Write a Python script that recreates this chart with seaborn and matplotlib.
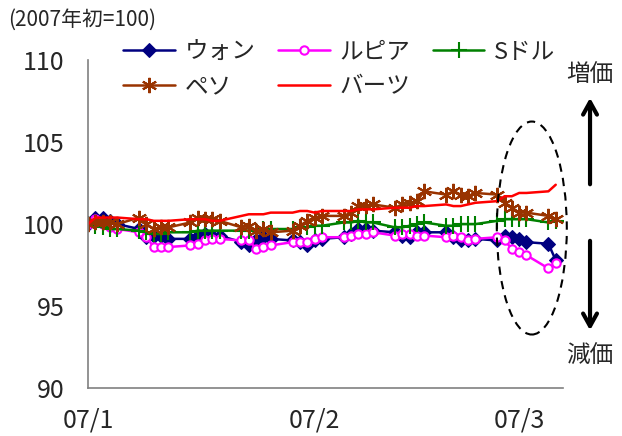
import numpy as np
import pandas as pd
import matplotlib
matplotlib.use('Agg')
import matplotlib.pyplot as plt
from matplotlib.patches import Ellipse
import seaborn as sns

# business days, 2007 (start = 100)
dates = ['2007-01-01', '2007-01-02', '2007-01-03', '2007-01-04', '2007-01-05',
         '2007-01-08', '2007-01-09', '2007-01-10', '2007-01-11', '2007-01-12',
         '2007-01-15', '2007-01-16', '2007-01-17', '2007-01-18', '2007-01-19',
         '2007-01-22', '2007-01-23', '2007-01-24', '2007-01-25', '2007-01-26',
         '2007-01-29', '2007-01-30', '2007-01-31', '2007-02-01', '2007-02-02',
         '2007-02-05', '2007-02-06', '2007-02-07', '2007-02-08', '2007-02-09',
         '2007-02-12', '2007-02-13', '2007-02-14', '2007-02-15', '2007-02-16',
         '2007-02-19', '2007-02-20', '2007-02-21', '2007-02-22', '2007-02-23',
         '2007-02-26', '2007-02-27', '2007-02-28', '2007-03-01', '2007-03-02',
         '2007-03-05', '2007-03-06']

won = [100.0, 100.4, 100.4, 100.2, 100.0, 99.7, 99.2, 99.3, 99.3, 99.1,
       99.1, 99.3, 99.4, 99.3, 99.3, 98.9, 98.7, 99.0, 99.2, 99.1,
       99.0, 98.9, 98.7, 99.0, 99.1, 99.2, 99.4, 99.7, 99.7, 99.6,
       99.5, 99.3, 99.2, 99.5, 99.5, 99.5, 99.2, 99.0, 99.0, 99.1,
       99.0, 99.3, 99.2, 99.1, 98.9, 98.8, 97.8]
rupiah = [100.0, 100.3, 100.0, 99.8, 99.7, 99.5, 99.2, 98.6, 98.6, 98.6,
          98.7, 98.8, 99.0, 99.1, 99.1, 99.0, 99.0, 98.5, 98.6, 98.7,
          98.9, 98.9, 98.9, 99.1, 99.2, 99.2, 99.3, 99.4, 99.4, 99.5,
          99.3, 99.4, 99.4, 99.3, 99.3, 99.2, 99.3, 99.2, 99.0, 99.1,
          99.2, 99.0, 98.5, 98.3, 98.1, 97.3, 97.6]
sgd = [100.0, 99.9, 99.8, 99.7, 99.7, 99.6, 99.5, 99.4, 99.4, 99.5,
       99.5, 99.6, 99.6, 99.6, 99.6, 99.6, 99.6, 99.6, 99.7, 99.7,
       99.7, 99.8, 99.8, 99.9, 99.9, 100.1, 100.1, 100.2, 100.1, 100.1,
       99.8, 99.8, 99.9, 100.0, 100.1, 99.9, 99.9, 100.0, 100.0, 100.0,
       100.2, 100.3, 100.3, 100.3, 100.3, 100.1, 100.2]
peso = [100.0, 100.1, 100.1, 100.1, 100.0, 100.4, 100.0, 99.7, 99.8, 99.8,
        100.1, 100.4, 100.3, 100.3, 100.2, 99.8, 99.9, 99.6, 99.7, 99.5,
        99.6, 99.9, 100.2, 100.4, 100.5, 100.5, 100.7, 101.1, 101.1, 101.2,
        101.0, 101.2, 101.3, 101.4, 102.0, 101.8, 102.0, 101.8, 101.7, 101.9,
        101.8, 101.3, 101.0, 100.7, 100.7, 100.5, 100.3]
baht = [100.0, 100.4, 100.4, 100.4, 100.4, 100.3, 100.3, 100.2, 100.2, 100.2,
        100.3, 100.3, 100.3, 100.2, 100.2, 100.5, 100.6, 100.6, 100.6, 100.7,
        100.7, 100.8, 100.8, 100.7, 100.8, 100.8, 100.8, 100.9, 100.9, 100.9,
        101.0, 101.0, 101.0, 101.1, 101.1, 101.2, 101.1, 101.1, 101.2, 101.3,
        101.4, 101.7, 101.7, 101.9, 101.9, 102.0, 102.4]

names = ['ウォン', 'ルピア', 'Sドル', 'ペソ', 'バーツ']
values = [won, rupiah, sgd, peso, baht]
tick_dates = ['2007-01-01', '2007-02-01', '2007-03-01']
tick_labels = ['07/1', '07/2', '07/3']

styles = {
    'ウォン': dict(color='#000080', marker='D', markersize=7, mfc='#000080', mec='#000080'),
    'ルピア': dict(color='#FF00FF', marker='o', markersize=6, mfc='white', mec='#FF00FF', mew=1.5),
    'Sドル': dict(color='#008000', marker='+', markersize=12, mec='#008000', mew=1.5),
    'ペソ': dict(color='#993300', marker=(6, 2, 0), markersize=11, mec='#993300', mew=1.5),
    'バーツ': dict(color='#FF0000'),
}

sns.set_style('white')
plt.rcParams['font.family'] = ['Noto Sans CJK JP', 'DejaVu Sans']

df = pd.DataFrame({'date': pd.to_datetime(dates)})
for n, v in zip(names, values):
    df[n] = v

fig = plt.figure(figsize=(6.22, 4.36), dpi=100)
ax = fig.add_axes([0.1415, 0.110, 0.7637, 0.752])

for n in names:
    sns.lineplot(data=df, x='date', y=n, ax=ax, label=n, linewidth=1.8, **styles[n])

ax.set_ylim(90, 110)
ax.set_yticks([90, 95, 100, 105, 110])
ax.set_xlim(pd.Timestamp('2007-01-01'), pd.Timestamp('2007-03-07'))
ax.set_xticks(pd.to_datetime(tick_dates))
ax.set_xticklabels(tick_labels)
ax.set_xlabel('')
ax.set_ylabel('')
for s in ['top', 'right']:
    ax.spines[s].set_visible(False)
for s in ['left', 'bottom']:
    ax.spines[s].set_color('#808080')
    ax.spines[s].set_linewidth(1.2)
ax.tick_params(axis='y', direction='in', length=5, color='#808080', labelsize=18, pad=17)
ax.tick_params(axis='x', direction='in', length=6, color='#808080', labelsize=18, pad=14)

handles, labels = ax.get_legend_handles_labels()
order = [0, 3, 1, 4, 2]
ax.legend([handles[i] for i in order], [labels[i] for i in order], ncol=3,
          loc='upper left', bbox_to_anchor=(0.198, 0.907), bbox_transform=fig.transFigure,
          frameon=False, fontsize=17, handlelength=2.2, handletextpad=0.4,
          columnspacing=0.95, labelspacing=0.5, borderpad=0, borderaxespad=0)

fig.text(0.013, 0.955, '(2007年初=100)', fontsize=15, va='center', ha='left')
fig.text(0.948, 0.828, '増価', fontsize=17, va='center', ha='center')
fig.text(0.948, 0.183, '減価', fontsize=17, va='center', ha='center')

fig.add_artist(Ellipse((0.855, 0.477), 70 / 622, 213 / 436, transform=fig.transFigure,
                       fill=False, ls=(0, (4, 3)), lw=1.5, ec='black'))
arrow = dict(arrowstyle='->, head_width=0.5, head_length=0.9', lw=3, color='black')
fig.add_artist(plt.Annotation('', xy=(0.9486, 0.782), xytext=(0.9486, 0.571),
                              xycoords='figure fraction', textcoords='figure fraction',
                              arrowprops=arrow))
fig.add_artist(plt.Annotation('', xy=(0.9486, 0.236), xytext=(0.9486, 0.454),
                              xycoords='figure fraction', textcoords='figure fraction',
                              arrowprops=arrow))

fig.savefig('out.png', dpi=100)
